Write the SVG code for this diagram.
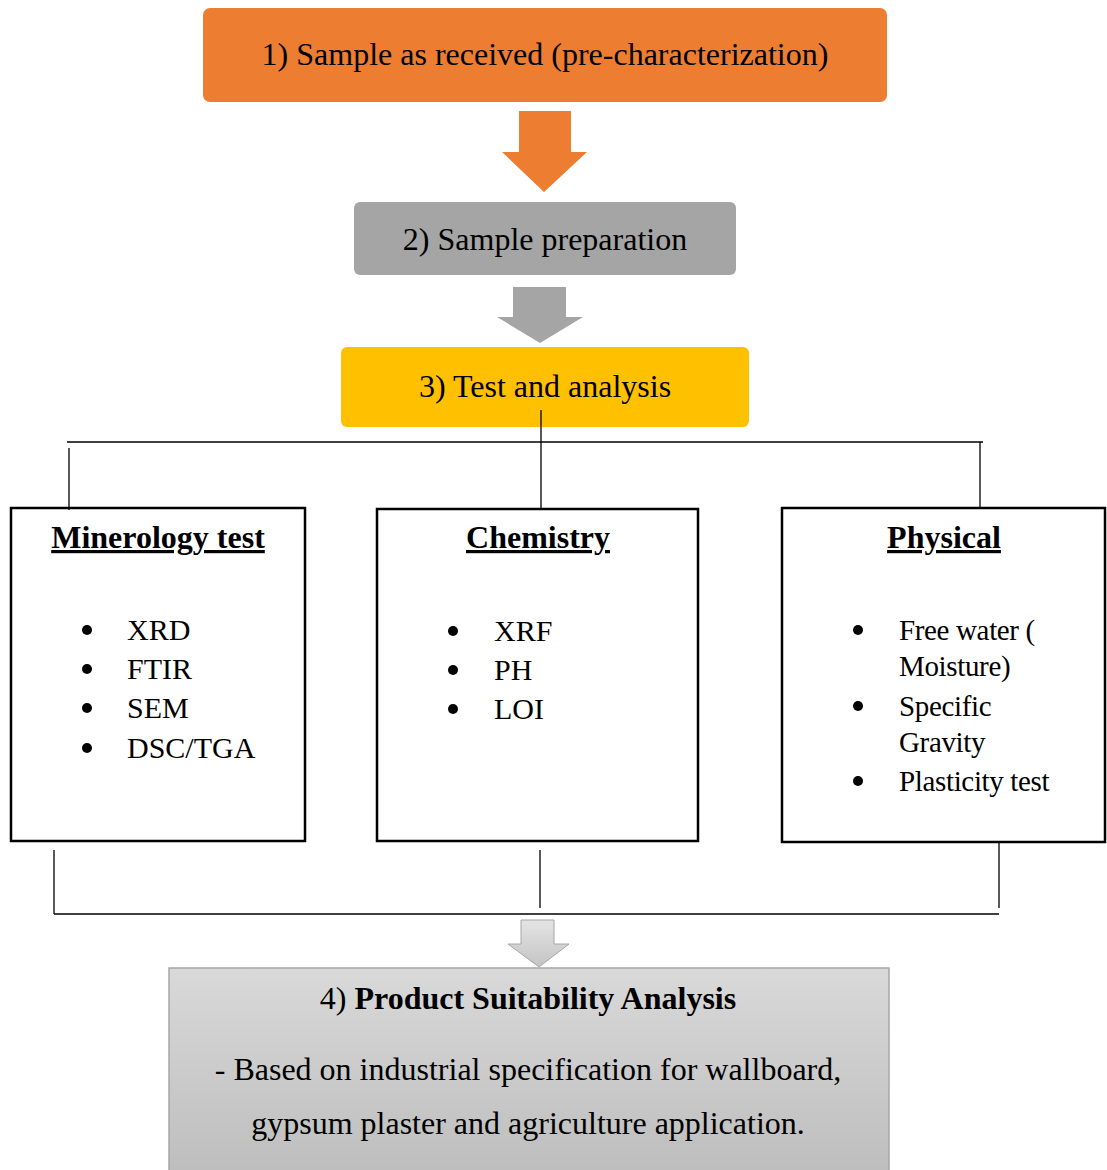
<svg xmlns="http://www.w3.org/2000/svg" width="1107" height="1170" viewBox="0 0 1107 1170">
<defs>
<style>
text{font-family:"Liberation Serif","Times New Roman",serif;fill:#000;}
.t{font-size:32px;text-anchor:middle;}
.h{font-size:32px;font-weight:bold;text-anchor:middle;text-decoration:underline;}
.li{font-size:30px;}
.lp{font-size:29px;letter-spacing:-0.35px;}
.box{fill:#fff;stroke:#000;stroke-width:2.5;}
.ln{stroke:#000;stroke-width:1.3;fill:none;}
.dot{fill:#000;}
</style>
<linearGradient id="g4" x1="0" y1="0" x2="0" y2="1">
<stop offset="0" stop-color="#D9D9D9"/>
<stop offset="1" stop-color="#BDBDBD"/>
</linearGradient>
<linearGradient id="ga" x1="0" y1="0" x2="0" y2="1">
<stop offset="0" stop-color="#E4E4E4"/>
<stop offset="1" stop-color="#C4C4C4"/>
</linearGradient>
</defs>

<g id="node1">
<rect x="203" y="8" width="684" height="94" rx="7" fill="#ED7D31"/>
<text class="t" x="545" y="65">1) Sample as received (pre-characterization)</text>
</g>
<g id="node2">
<rect x="354" y="202" width="382" height="73" rx="6" fill="#A5A5A5"/>
<text class="t" x="545" y="250">2) Sample preparation</text>
</g>
<g id="node3">
<rect x="341" y="347" width="408" height="80" rx="6" fill="#FFC000"/>
<text class="t" x="545" y="397">3) Test and analysis</text>
</g>

<g id="node-minerology">
<rect class="box" x="11" y="508" width="294" height="333"/>
<text class="h" x="158" y="548">Minerology test</text>
<circle class="dot" cx="87" cy="630" r="5"/>
<circle class="dot" cx="87" cy="669" r="5"/>
<circle class="dot" cx="87" cy="708" r="5"/>
<circle class="dot" cx="87" cy="748" r="5"/>
<text class="li" x="127" y="640">XRD</text>
<text class="li" x="127" y="679">FTIR</text>
<text class="li" x="127" y="718">SEM</text>
<text class="li" x="127" y="758">DSC/TGA</text>
</g>
<g id="node-chemistry">
<rect class="box" x="377" y="509" width="321" height="332"/>
<text class="h" x="538" y="548">Chemistry</text>
<circle class="dot" cx="453" cy="631" r="5"/>
<circle class="dot" cx="453" cy="670" r="5"/>
<circle class="dot" cx="453" cy="709" r="5"/>
<text class="li" x="494" y="641">XRF</text>
<text class="li" x="494" y="680">PH</text>
<text class="li" x="494" y="719">LOI</text>
</g>
<g id="node-physical">
<rect class="box" x="782" y="508" width="323" height="334"/>
<text class="h" x="944" y="548">Physical</text>
<circle class="dot" cx="858" cy="630" r="5"/>
<circle class="dot" cx="858" cy="706" r="5"/>
<circle class="dot" cx="858" cy="781" r="5"/>
<text class="lp" x="899" y="640">Free water (</text>
<text class="lp" x="899" y="676">Moisture)</text>
<text class="lp" x="899" y="716">Specific</text>
<text class="lp" x="899" y="752">Gravity</text>
<text class="lp" x="899" y="791">Plasticity test</text>
</g>

<g id="node4">
<rect x="169" y="968" width="720" height="210" fill="url(#g4)" stroke="#A6A6A6" stroke-width="1.5"/>
<text class="t" x="528" y="1009">4) <tspan font-weight="bold">Product Suitability Analysis</tspan></text>
<text class="t" x="528" y="1080">- Based on industrial specification for wallboard,</text>
<text class="t" x="528" y="1134">gypsum plaster and agriculture application.</text>
</g>

<g id="connectors">
<polygon points="519,111 571,111 571,152 587,152 544,192 502,152 519,152" fill="#ED7D31"/>
<polygon points="513,287 566,287 566,317 583,317 540,343 497,317 513,317" fill="#A5A5A5"/>
<polygon points="521,920 554,920 554,944 569,944 539,967 508,944 521,944" fill="url(#ga)" stroke="#A6A6A6" stroke-width="1"/>
<line class="ln" x1="67" y1="442" x2="983" y2="442"/>
<line class="ln" x1="541" y1="410" x2="541" y2="508"/>
<line class="ln" x1="69" y1="448" x2="69" y2="510"/>
<line class="ln" x1="980" y1="442" x2="980" y2="507"/>
<line class="ln" x1="54" y1="850" x2="54" y2="914"/>
<line class="ln" x1="54" y1="914" x2="999" y2="914"/>
<line class="ln" x1="540" y1="850" x2="540" y2="908"/>
<line class="ln" x1="999" y1="843" x2="999" y2="908"/>
</g>
</svg>
